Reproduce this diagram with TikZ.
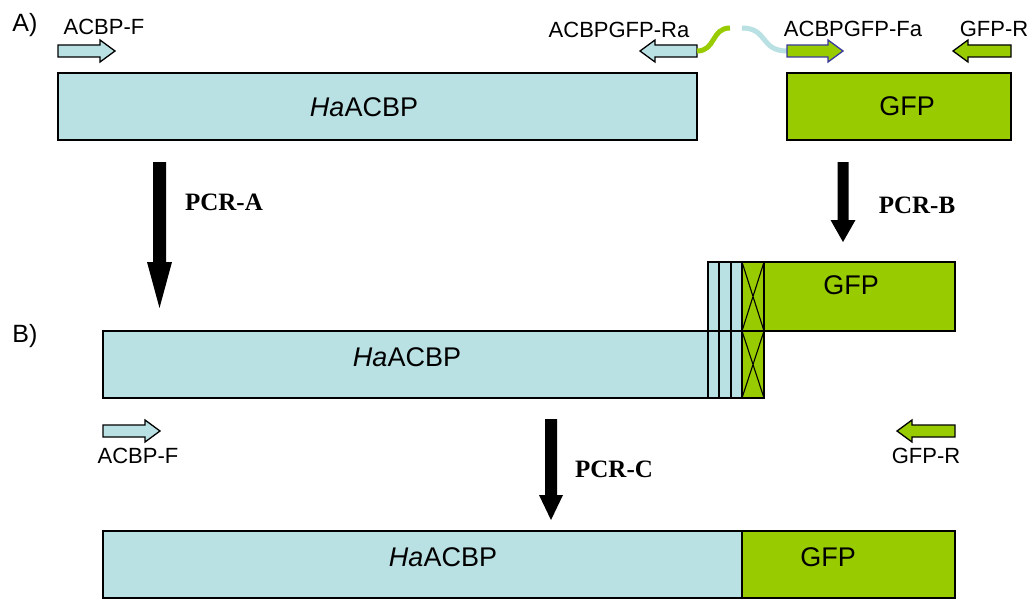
\documentclass[tikz,border=0pt]{standalone}
\usepackage{fontspec}
\setmainfont{Liberation Sans}
\newfontfamily\pcrfont{Liberation Serif}
\definecolor{acbp}{HTML}{B9E0E3}
\definecolor{gfp}{HTML}{99CC00}
\definecolor{fablue}{HTML}{3A3A9E}
\newcommand\primerR[4]{\draw[#4] (#1,#3-6) -- (#2-15,#3-6) -- (#2-15,#3-11) -- (#2,#3) -- (#2-15,#3+11) -- (#2-15,#3+6) -- (#1,#3+6) -- cycle;}
\newcommand\primerL[4]{\draw[#4] (#2,#3-6) -- (#1+15,#3-6) -- (#1+15,#3-11) -- (#1,#3) -- (#1+15,#3+11) -- (#1+15,#3+6) -- (#2,#3+6) -- cycle;}
\newcommand\pcrarrow[6]{\fill[black] (#1-#2,#3) -- (#1+#2,#3) -- (#1+#2,#4) -- (#1+#6,#4) -- (#1,#5) -- (#1-#6,#4) -- (#1-#2,#4) -- cycle;}
\begin{document}
\begin{tikzpicture}[x=1pt,y=-1pt,
  lb/.style={fill=acbp,draw=black,line width=1.3pt},
  gr/.style={fill=gfp,draw=black,line width=1.3pt},
  thin/.style={draw=black,line width=1.1pt},
  lab/.style={font=\fontsize{22}{22}\selectfont,inner sep=0pt,anchor=base},
  seclab/.style={font=\fontsize{25}{25}\selectfont,inner sep=0pt,anchor=base},
  boxlab/.style={font=\fontsize{27}{27}\selectfont,inner sep=0pt,anchor=base},
  pcr/.style={font=\pcrfont\bfseries\fontsize{25}{25}\selectfont,inner sep=0pt,anchor=base}]
\useasboundingbox (0,0) rectangle (1035,599);
% ---------- A)
\node[seclab] (secA) at (25,32) {A)};
\node[lab] (fA) at (104,35) {ACBP-F};
\primerR{58}{115}{51}{lb}
\node[lab] (ra) at (619,38) {ACBPGFP-Ra};
\primerL{640}{697}{51}{lb}
\draw[gfp,line width=5pt] (697,51) .. controls (716,51) and (711,28) .. (730,28);
\draw[acbp,line width=5pt] (742,28) .. controls (768,28) and (760,51) .. (787,51);
\node[lab] (fa) at (853,37) {ACBPGFP-Fa};
\primerR{787}{843}{51}{fill=gfp,draw=fablue,line width=1.3pt}
\node[lab] (grA) at (994,37) {GFP-R};
\primerL{953}{1011}{51}{gr}
\draw[lb] (58,73) rectangle (697,140);
\node[boxlab] (acbpA) at (364,117) {\textit{Ha}ACBP};
\draw[gr] (787,73) rectangle (1011,140);
\node[boxlab] (gfpA) at (907,115) {GFP};
% PCR arrows
\pcrarrow{159.5}{6.5}{162}{262}{308}{12.5}
\node[pcr] (pcrA) at (224,210) {PCR-A};
\pcrarrow{843}{5.5}{162}{220}{242}{12.5}
\node[pcr] (pcrB) at (917,213) {PCR-B};
% ---------- B)
\node[seclab] (secB) at (25,342) {B)};
\draw[lb] (708,262) rectangle (742,331);
\draw[thin] (719,262) -- (719,331) (731,262) -- (731,331);
\draw[gr] (742,262) rectangle (955,331);
\draw[thin] (764,262) -- (764,331);
\draw[thin] (742,262) -- (764,331) (764,262) -- (742,331);
\node[boxlab] (gfpB) at (851,294) {GFP};
\draw[lb] (103,331) rectangle (742,398);
\draw[thin] (708,331) -- (708,398) (719,331) -- (719,398) (731,331) -- (731,398);
\draw[gr] (742,331) rectangle (764,398);
\draw[thin] (742,331) -- (764,398) (764,331) -- (742,398);
\node[boxlab] (acbpB) at (407,366) {\textit{Ha}ACBP};
\primerR{103}{160}{431}{lb}
\node[lab] (fB) at (138,463) {ACBP-F};
\primerL{897}{955}{431}{gr}
\node[lab] (grB) at (926,463) {GFP-R};
\pcrarrow{551}{6}{419}{495}{520}{12}
\node[pcr] (pcrC) at (614,477) {PCR-C};
% ---------- C
\draw[lb] (103,531) rectangle (742,598);
\node[boxlab] (acbpC) at (443,566) {\textit{Ha}ACBP};
\draw[gr] (742,531) rectangle (955,598);
\node[boxlab] (gfpC) at (828,566) {GFP};
\end{tikzpicture}
\end{document}
